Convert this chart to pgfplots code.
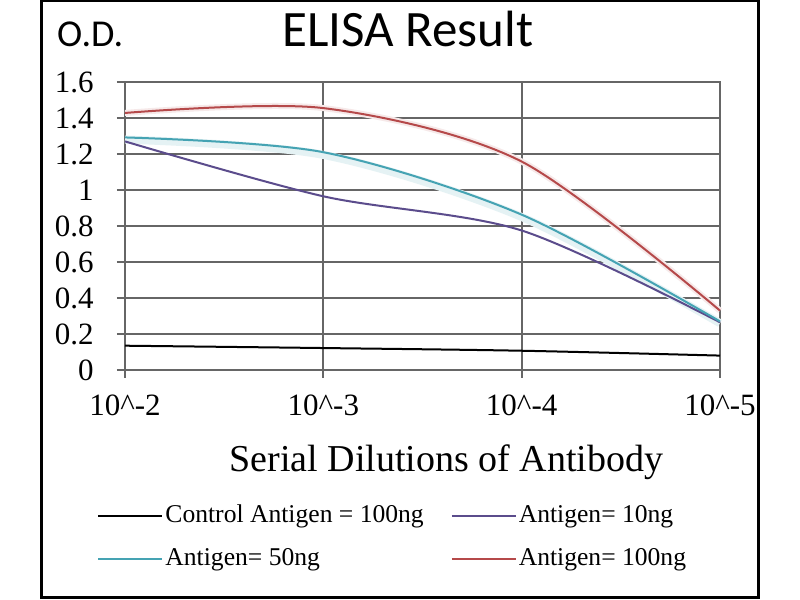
\documentclass[border=0pt]{standalone}
\usepackage{fontspec}
\setmainfont{Liberation Serif}
\newfontfamily\calibri{Carlito}
\usepackage{pgfplots}
\pgfplotsset{compat=1.18}
\definecolor{cRed}{HTML}{B5494A}
\definecolor{cCyan}{HTML}{45A3B3}
\definecolor{cPurple}{HTML}{5B4C8C}
\definecolor{gridc}{HTML}{666666}
\begin{document}
\begin{tikzpicture}
\useasboundingbox (0,0) rectangle (400pt,300pt);
\fill[white] (0,0) rectangle (400pt,300pt);
\begin{axis}[
  at={(62.5pt,115pt)}, anchor=south west,
  scale only axis, width=297.5pt, height=144pt,
  xmin=0, xmax=3, ymin=0, ymax=1.6,
  xtick={0,1,2,3},
  xticklabels={10\textasciicircum-2,10\textasciicircum-3,10\textasciicircum-4,10\textasciicircum-5},
  ytick={0,0.2,0.4,0.6,0.8,1,1.2,1.4,1.6},
  grid=major, grid style={gridc, line width=0.9pt},
  axis line style={gridc, line width=0.9pt},
  tick align=outside, major tick length=4pt, tick pos=left,
  tick style={gridc, line width=0.9pt},
  /pgf/number format/assume math mode=true,
  tick label style={font=\fontsize{15.5}{18}\selectfont},
  yticklabel style={inner sep=0pt, xshift=-11.5pt},
  xticklabel style={inner sep=0pt, yshift=-8pt},
  clip=false,
  legend columns=2,
  legend cell align=left,
  legend style={at={(-0.047,-0.58)}, anchor=west, draw=none, fill=none,
    font=\fontsize{12.8}{15}\selectfont, inner sep=0pt,
    /tikz/every even column/.append style={column sep=12.5pt},
    row sep=9.5pt, nodes={inner sep=1pt}},
  legend image code/.code={\draw[#1] (0pt,0pt) -- (32pt,0pt);},
]
% halos
\addplot[cCyan!14, line width=4pt, smooth, forget plot] coordinates {
  (0,1.28) (1,1.195) (2,0.85) (3,0.26)};
\addplot[cRed!12, line width=3pt, smooth, forget plot] coordinates {
  (0,1.428) (1,1.455) (2,1.158) (3,0.33)};
% data
\addplot[black, line width=1pt, smooth] coordinates {
  (0,0.135) (1,0.122) (2,0.107) (3,0.08)};
\addlegendentry{Control Antigen = 100ng}
\addplot[cPurple, line width=1pt, smooth] coordinates {
  (0,1.27) (1,0.965) (2,0.775) (3,0.265)};
\addlegendentry{Antigen= 10ng}
\addplot[cCyan, line width=1pt, smooth] coordinates {
  (0,1.292) (1,1.21) (2,0.863) (3,0.27)};
\addlegendentry{Antigen= 50ng}
\addplot[cRed, line width=1pt, smooth] coordinates {
  (0,1.428) (1,1.455) (2,1.158) (3,0.33)};
\addlegendentry{Antigen= 100ng}
\end{axis}
\node[anchor=base, font=\calibri\fontsize{25.5}{30}\selectfont] at (204pt,276.5pt) {ELISA Result};
\node[anchor=base west, inner sep=0pt, font=\calibri\fontsize{19}{22}\selectfont] at (28.3pt,276.7pt) {O.D.};
\node[anchor=base, inner sep=0pt, font=\fontsize{19}{22}\selectfont] at (223.3pt,64pt) {Serial Dilutions of Antibody};
\draw[line width=1.5pt] (20.5pt,1pt) rectangle (379pt,299.5pt);
\end{tikzpicture}
\end{document}
